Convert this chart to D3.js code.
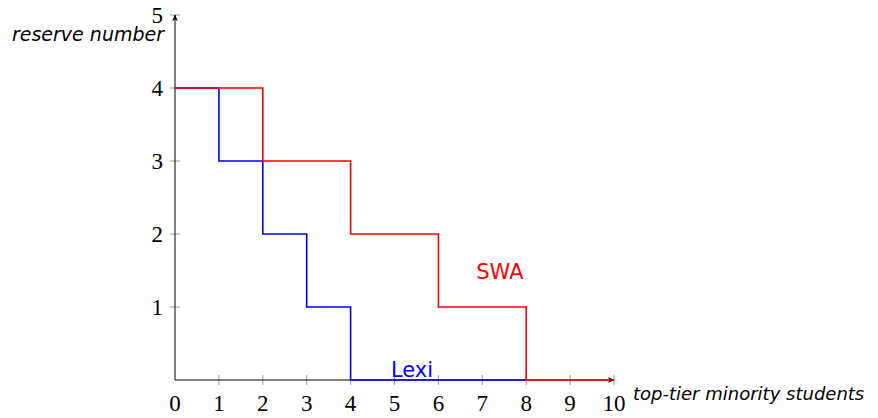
<!DOCTYPE html>
<html><head><meta charset="utf-8">
<script src="https://cdn.jsdelivr.net/npm/d3@7"></script>
<style>
body{margin:0;background:#fff;}
svg{display:block;}
</style></head>
<body><svg id="c" width="878" height="418"></svg>
<script>
// Data
const xTicks = [0,1,2,3,4,5,6,7,8,9,10];
const yTicks = [1,2,3,4,5];
const swaX = [0,2,2,4,4,6,6,8,8,10];
const swaY = [4,4,3,3,2,2,1,1,0,0];
const lexiX = [0,1,1,2,2,3,3,4,4,8];
const lexiY = [4,4,3,3,2,2,1,1,0,0];
const xLabel = "top-tier minority students";
const yLabel = "reserve number";
const seriesNames = ["SWA","Lexi"];
const seriesLabelPos = [[7.4,1.5],[5.4,0.15]];

const svg = d3.select("#c");
const x = d3.scaleLinear().domain([0,10]).range([175,614]);
const y = d3.scaleLinear().domain([0,5]).range([380,15]);

// ticks (gray, crossing axes)
const tickColor = "#999";
svg.append("g").selectAll("line").data(xTicks.filter(d=>d>0)).join("line")
  .attr("x1",d=>x(d)).attr("x2",d=>x(d)).attr("y1",y(0)-5).attr("y2",y(0)+5)
  .attr("stroke",tickColor).attr("stroke-width",1);
svg.append("g").selectAll("line").data(yTicks).join("line")
  .attr("y1",d=>y(d)).attr("y2",d=>y(d)).attr("x1",x(0)-5).attr("x2",x(0)+5)
  .attr("stroke",tickColor).attr("stroke-width",1);

// tick labels
svg.append("g").selectAll("text").data(xTicks).join("text")
  .attr("x",d=>x(d)).attr("y",411).attr("text-anchor","middle")
  .attr("font-family","Liberation Serif, DejaVu Serif, serif").attr("font-size",23)
  .text(d=>d);
svg.append("g").selectAll("text").data(yTicks).join("text")
  .attr("x",x(0)-12).attr("y",d=>y(d)+8).attr("text-anchor","end")
  .attr("font-family","Liberation Serif, DejaVu Serif, serif").attr("font-size",23)
  .text(d=>d);

// arrow marker
const defs = svg.append("defs");
defs.append("marker").attr("id","arr").attr("viewBox","0 0 10 10")
  .attr("refX",9).attr("refY",5).attr("markerWidth",7).attr("markerHeight",7)
  .attr("markerUnits","userSpaceOnUse").attr("orient","auto")
  .append("path").attr("d","M0,1 L10,5 L0,9 L3,5 Z").attr("fill","#000");

// axes
svg.append("line").attr("x1",x(0)).attr("x2",x(10)).attr("y1",y(0)).attr("y2",y(0))
  .attr("stroke","#000").attr("stroke-width",1).attr("marker-end","url(#arr)");
svg.append("line").attr("x1",x(0)).attr("x2",x(0)).attr("y1",y(0)).attr("y2",y(5))
  .attr("stroke","#000").attr("stroke-width",1).attr("marker-end","url(#arr)");

// series
const line = d3.line().x(d=>x(d[0])).y(d=>y(d[1]));
const lexiPts = lexiX.map((v,i)=>[v,lexiY[i]]);
const swaPts = swaX.map((v,i)=>[v,swaY[i]]);
svg.append("path").attr("d",line(lexiPts)).attr("fill","none").attr("stroke","#0000ff").attr("stroke-width",1.6);
svg.append("path").attr("d",line(swaPts)).attr("fill","none").attr("stroke","#ff0000").attr("stroke-width",1.6);

// series labels
const colors = ["#ff0000","#0000ff"];
seriesNames.forEach((n,i)=>{
  svg.append("text").attr("x",x(seriesLabelPos[i][0])).attr("y",y(seriesLabelPos[i][1])+8)
    .attr("text-anchor","middle").attr("font-family","DejaVu Sans, sans-serif").attr("font-size",21)
    .attr("fill",colors[i]).text(n);
});

// axis labels
svg.append("text").attr("x",633).attr("y",400).attr("font-family","DejaVu Sans, sans-serif")
  .attr("font-style","italic").attr("font-size",18).text(xLabel);
svg.append("text").attr("x",164).attr("y",41).attr("text-anchor","end").attr("font-family","DejaVu Sans, sans-serif")
  .attr("font-style","italic").attr("font-size",19).text(yLabel);
</script></body></html>
